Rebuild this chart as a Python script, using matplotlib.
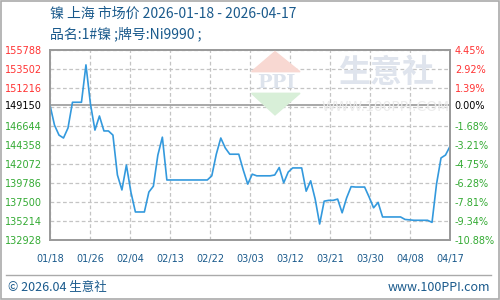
import matplotlib
matplotlib.use('Agg')
import matplotlib.pyplot as plt
import numpy as np

plt.rcParams['font.family'] = ['DejaVu Sans', 'Noto Sans CJK SC']

# daily price, 2026-01-18 .. 2026-04-17
prices = [149150, 146750, 145550, 145200, 146400, 149500, 149500, 149500, 154000, 149300,
          146150, 147850, 146050, 146050, 145550, 140750, 138950, 141950, 138700, 136300,
          136300, 136300, 138700, 139400, 143150, 145300, 140150, 140150, 140150, 140150,
          140150, 140150, 140150, 140150, 140150, 140150, 140650, 143250, 145200, 144000,
          143250, 143250, 143250, 141350, 139650, 140850, 140650, 140650, 140650, 140650,
          140750, 141650, 139800, 141100, 141600, 141600, 141600, 138800, 140050, 137850,
          134850, 137600, 137700, 137700, 137850, 136200, 138000, 139350, 139300, 139300,
          139300, 138100, 136800, 137450, 135700, 135700, 135700, 135700, 135700, 135400,
          135350, 135300, 135300, 135300, 135300, 135050, 139650, 142800, 143150, 144200]
base_price = 149150
date_labels = ['01/18', '01/26', '02/04', '02/13', '02/22', '03/03',
               '03/12', '03/21', '03/30', '04/08', '04/17']
grid_vals = [155788, 153502, 151216, 148930, 146644, 144358, 142072,
             139786, 137500, 135214, 132928]
left_labels = ['155788', '153502', '151216', '149150', '146644', '144358', '142072',
               '139786', '137500', '135214', '132928']
right_labels = ['4.45%', '2.92%', '1.39%', '0.00%', '-1.68%', '-3.21%', '-4.75%',
                '-6.28%', '-7.81%', '-9.34%', '-10.88%']

blue = '#1a5a8c'
red = '#ff3333'
green = '#33aa33'

fig = plt.figure(figsize=(5, 3), dpi=100)
ax = fig.add_axes([0.1, 0.2, 0.8, 0.6333])

days = np.arange(len(prices))
xticks = np.linspace(0, len(prices) - 1, len(date_labels))
ax.set_xlim(0, len(prices) - 1)
ax.set_ylim(grid_vals[-1], grid_vals[0])

# grid
for v in grid_vals:
    ax.axhline(v, color='#c4c4c4', lw=0.9, ls=(0, (3, 2)), zorder=1)
for x in xticks:
    ax.axvline(x, color='#c4c4c4', lw=0.9, ls=(0, (3, 2)), zorder=1)
ax.axhline(base_price, color='#999999', lw=1.2, zorder=2)

# watermark
fig.patches.append(plt.Polygon([[0.503, 0.761], [0.55, 0.828], [0.6, 0.761]], closed=True,
                               transform=fig.transFigure, color='#f8d8d2', zorder=0))
fig.patches.append(plt.Polygon([[0.503, 0.689], [0.55, 0.617], [0.6, 0.689]], closed=True,
                               transform=fig.transFigure, color='#d8efd8', zorder=0))
fig.text(0.552, 0.723, 'PPI', fontsize=14, color='#dde3ec', ha='center', va='center',
         family='DejaVu Serif', weight='bold')
fig.text(0.772, 0.757, '生意社', fontsize=23, color='#dfe4ed', ha='center', va='center',
         family=['Noto Sans CJK SC'], weight='bold')
fig.text(0.772, 0.643, 'WWW.100PPI.COM', fontsize=10, color='#ececec', ha='center', va='center')

ax.plot(days, prices, color='#3399dd', lw=1.2, zorder=3)

ax.set_xticks(xticks, date_labels)
yt = [v if i != 3 else base_price for i, v in enumerate(grid_vals)]
ax.set_yticks(yt, left_labels)
ax.tick_params(length=0, labelsize=7)
ax.tick_params(axis='x', colors=blue, pad=10)
ax.tick_params(axis='y', pad=6)
for i, lab in enumerate(ax.get_yticklabels()):
    lab.set_color(red if i < 3 else ('black' if i == 3 else green))

ax2 = ax.twinx()
ax2.set_ylim(ax.get_ylim())
ax2.set_yticks(yt, right_labels)
ax2.tick_params(length=0, labelsize=7, pad=3.5)
for i, lab in enumerate(ax2.get_yticklabels()):
    lab.set_color(red if i < 3 else ('black' if i == 3 else green))

for a in (ax, ax2):
    for s in a.spines.values():
        s.set_color('#999999')
        s.set_linewidth(1.2)

# titles
fig.text(0.1, 0.953, '镍 上海 市场价 2026-01-18 - 2026-04-17', fontsize=10, color=blue,
         va='center', family=['Noto Sans CJK SC', 'DejaVu Sans'])
fig.text(0.1, 0.887, '品名:1#镍 ;牌号:Ni9990 ;', fontsize=10, color=blue,
         va='center', family=['Noto Sans CJK SC', 'DejaVu Sans'])

# footer
fig.add_artist(plt.Line2D([0.012, 0.982], [0.083, 0.083], color='#aaaaaa', lw=1,
                          transform=fig.transFigure))
fig.text(0.016, 0.043, '© 2026.04 生意社', fontsize=9, color=blue, va='center',
         family=['Noto Sans CJK SC', 'DejaVu Sans'])
fig.text(0.98, 0.043, 'www.100PPI.com', fontsize=9, color=blue, va='center', ha='right',
         family=['Noto Sans CJK SC', 'DejaVu Sans'])
fig.patches.append(plt.Rectangle((0.001, 0.002), 0.997, 0.995, transform=fig.transFigure,
                                 fill=False, ec='#aaaaaa', lw=1.2))

fig.savefig('out.png', dpi=100)
